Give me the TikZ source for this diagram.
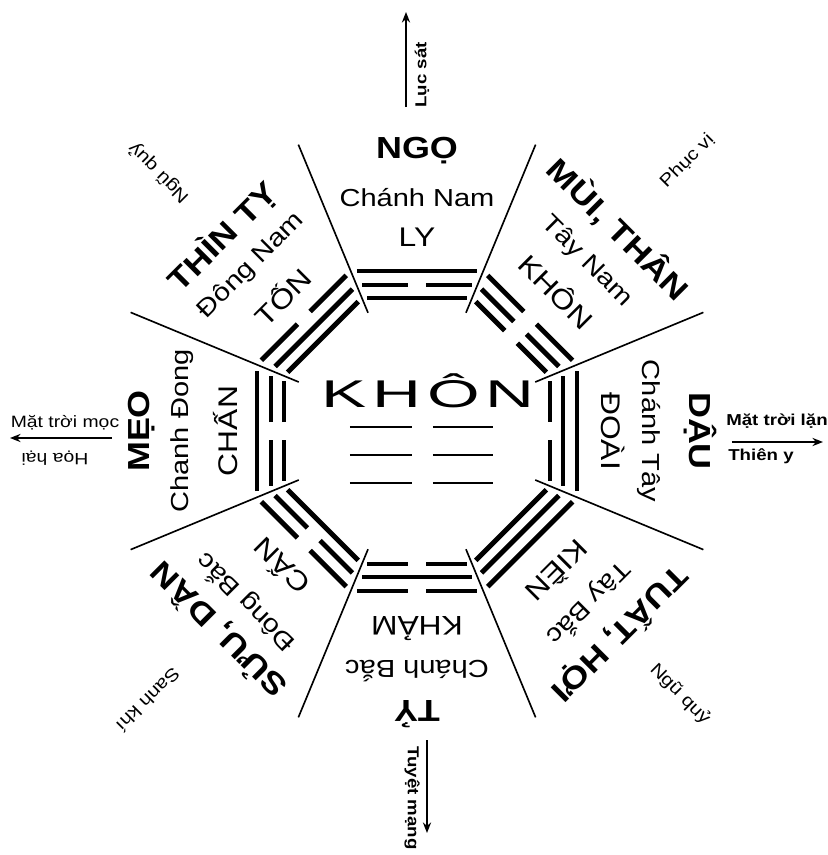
\documentclass[tikz,border=0pt]{standalone}
\usepackage{fontspec}
\setmainfont{Liberation Sans}[FakeStretch=1.18]
\newfontfamily\khonfont{Liberation Sans}[FakeStretch=1.75, LetterSpace=15]
\usetikzlibrary{arrows.meta}
\tikzset{
  every picture/.style={line width=1.4pt},
  branch/.style={font=\fontsize{26}{26}\selectfont\bfseries, inner sep=0pt},
  dirname/.style={font=\fontsize{21}{21}\selectfont, inner sep=0pt},
  gua/.style={font=\fontsize{23}{23}\selectfont, inner sep=0pt},
  fate/.style={font=\fontsize{14}{14}\selectfont, inner sep=0pt},
  corner/.style={font=\fontsize{15}{15}\selectfont, inner sep=0pt},
  fatebold/.style={font=\fontsize{13.5}{13.5}\selectfont\bfseries, inner sep=0pt},
  yaoline/.style={line width=4.2pt},
  divider/.style={line width=1.4pt},
  arrow/.style={-{Stealth[length=9pt, width=7pt]}, line width=1.5pt},
}
% one line of a trigram: #1 distance from the centre, #2 1 = solid, 0 = broken
\newcommand\yao[2]{%
  \ifnum#2=1
    \draw[yaoline] (-0.375*#1,#1) -- (0.375*#1,#1);
  \else
    \draw[yaoline] (-0.375*#1,#1) -- (-9,#1) (9,#1) -- (0.375*#1,#1);
  \fi}

\begin{document}
\begin{tikzpicture}[x=0.03cm, y=0.03cm]
  \useasboundingbox (-417,-424) rectangle (411,431);

  % sector borders
  \foreach \ang in {22.5,67.5,...,337.5}
    \draw[divider] (\ang:128) -- (\ang:310);

  % trigrams: angle / outer / middle / inner
  \foreach \ang/\a/\b/\c in {90/1/0/1, 45/0/0/0, 0/1/1/0, -45/1/1/1,
                             -90/0/1/0, -135/0/0/1, 180/1/0/0, 135/0/1/1} {
    \begin{scope}[rotate=\ang-90]
      \yao{160}{\a}
      \yao{146}{\b}
      \yao{133}{\c}
    \end{scope}
  }

  % centre
  \node[font=\khonfont\fontsize{33}{33}\selectfont, inner sep=0pt] (khonCenter) at (11,40) {KHÔN};
  \foreach \yy in {4,-24,-52}
    \draw[line width=2.5pt] (-67,\yy) -- (-5,\yy) (16,\yy) -- (76,\yy);

  % south (top)
  \node[branch] (ngo) at (90:280) {NGỌ};
  \node[dirname] (chanhNam) at (90:233) {Chánh Nam};
  \node[gua] (ly) at (90:194) {LY};
  % south-west
  \node[branch, rotate=-45] (muiThan) at (45:285) {MÙI, THÂN};
  \node[dirname, rotate=-45] (tayNam) at (45:240) {Tây Nam};
  \node[gua, rotate=-45] (khon) at (45:198) {KHÔN};
  % west
  \node[branch, rotate=-90] (dau) at (0:283) {DẬU};
  \node[dirname, rotate=-90] (chanhTay) at (0:232) {Chánh Tây};
  \node[gua, rotate=-90] (doai) at (0:196) {ĐOÀI};
  % north-west
  \node[branch, rotate=-135] (tuatHoi) at (-45:287) {TUẤT, HỢI};
  \node[dirname, rotate=-135] (tayBac) at (-45:243) {Tây Bắc};
  \node[gua, rotate=-135] (kien) at (-45:200) {KIỀN};
  % north
  \node[branch, rotate=180] (ty) at (-90:283) {TỶ};
  \node[dirname, rotate=180] (chanhBac) at (-90:240) {Chánh Bắc};
  \node[gua, rotate=180] (kham) at (-90:198) {KHẢM};
  % north-east
  \node[branch, rotate=135] (suuDan) at (-135:281) {SỬU, DẦN};
  \node[dirname, rotate=135] (dongBac) at (-135:242) {Đông Bắc};
  \node[gua, rotate=135] (can) at (-135:193) {CẤN};
  % east
  \node[branch, rotate=90] (meo) at (180:275) {MẸO};
  \node[dirname, rotate=90] (chanhDong) at (180:235) {Chanh Đong};
  \node[gua, rotate=90] (chan) at (180:191) {CHẤN};
  % south-east
  \node[branch, rotate=45] (thinTy) at (135:275) {THÌN TỴ};
  \node[dirname, rotate=45] (dongNam) at (135:234) {Đông Nam};
  \node[gua, rotate=45] (ton) at (135:191) {TỐN};

  % corner notes
  \node[corner, rotate=45] (phucVi) at (45:382) {Phục vị};
  \node[corner, rotate=135] (nguQuyA) at (135:365) {Ngũ quỷ};
  \node[corner, rotate=-135] (sanhKhi) at (-135:380) {Sanh khí};
  \node[corner, rotate=-45] (nguQuyB) at (-45:372) {Ngũ quỷ};

  % arrows out of the chart
  \coordinate (topFoot) at (-11,324);
  \coordinate (topTip) at (-11,419);
  \draw[arrow] (topFoot) -- (topTip);
  \node[fatebold, rotate=90] (lucSat) at (5,356) {Lục sát};

  \coordinate (botFoot) at (10,-309);
  \coordinate (botTip) at (10,-402);
  \draw[arrow] (botFoot) -- (botTip);
  \node[fatebold, rotate=-90] (tuyetMang) at (-5,-367) {Tuyệt mạng};

  \coordinate (leftFoot) at (-305,-7);
  \coordinate (leftTip) at (-407,-7);
  \draw[arrow] (leftFoot) -- (leftTip);
  \node[fate] (sunRise) at (-352,8) {Mặt trời mọc};
  \node[fate, rotate=180] (hoaHai) at (-362,-27) {Họa hại};

  \coordinate (rightFoot) at (315,-11);
  \coordinate (rightTip) at (406,-11);
  \draw[arrow] (rightFoot) -- (rightTip);
  \node[fatebold] (sunSet) at (360,10) {Mặt trời lặn};
  \node[fatebold] (thienY) at (344,-25) {Thiên y};
\end{tikzpicture}
\end{document}
